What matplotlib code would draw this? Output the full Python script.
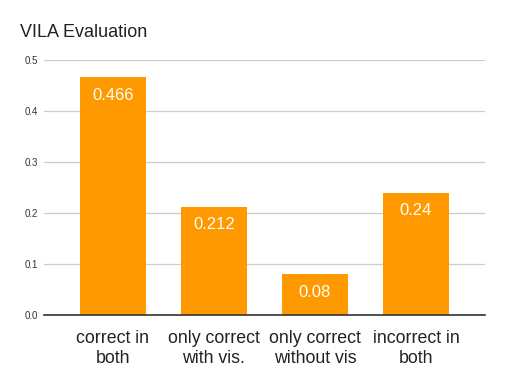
import matplotlib
matplotlib.use("Agg")
import matplotlib.pyplot as plt

plt.rcParams["font.family"] = ["Liberation Sans", "DejaVu Sans"]

categories = ["correct in\nboth", "only correct\nwith vis.", "only correct\nwithout vis", "incorrect in\nboth"]
values = [0.466, 0.212, 0.08, 0.24]
value_labels = ["0.466", "0.212", "0.08", "0.24"]
yticks = [0.0, 0.1, 0.2, 0.3, 0.4, 0.5]

fig = plt.figure(figsize=(5.05, 3.87), dpi=100)
ax = fig.add_axes([0.087, 0.186, 0.873, 0.659])

x = range(len(values))
bars = ax.bar(x, values, width=0.65, color="#ff9900", zorder=2)

for b, lab in zip(bars, value_labels):
    ax.text(b.get_x() + b.get_width() / 2, b.get_height() - 0.035, lab,
            ha="center", va="center", color="white", fontsize=12, zorder=3)

ax.set_xlim(-0.68, 3.68)
ax.set_ylim(0, 0.5)
ax.set_yticks(yticks)
ax.set_yticklabels(["{:.1f}".format(t) for t in yticks], fontsize=7, color="#333333")
ax.set_xticks(list(x))
ax.set_xticklabels(categories, fontsize=12.8, color="#222222", linespacing=1.2)
ax.tick_params(axis="both", length=0)
ax.tick_params(axis="x", pad=11)
ax.tick_params(axis="y", pad=4)

ax.yaxis.grid(True, color="#cccccc", linewidth=0.9, zorder=0)
for s in ["top", "right", "left"]:
    ax.spines[s].set_visible(False)
ax.spines["bottom"].set_color("#333333")
ax.spines["bottom"].set_linewidth(1.2)
ax.spines["bottom"].set_zorder(3)

fig.text(0.04, 0.917, "VILA Evaluation", fontsize=13, color="#222222", ha="left", va="center")

fig.savefig("out.png", dpi=100)
